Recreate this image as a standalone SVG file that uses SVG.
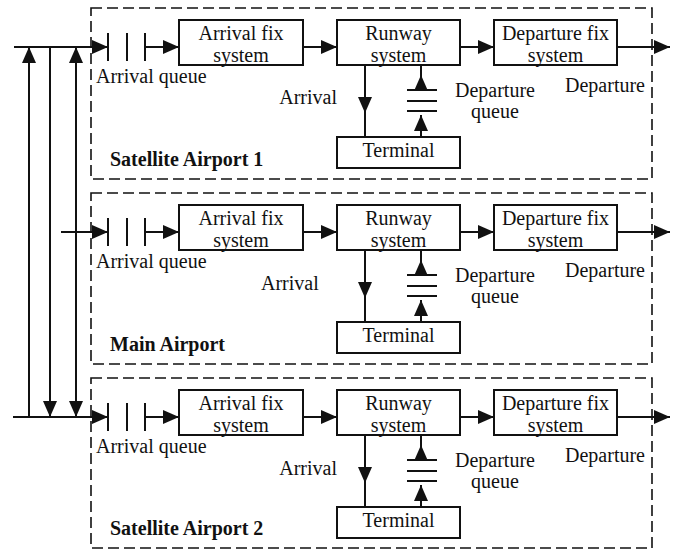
<svg xmlns="http://www.w3.org/2000/svg" width="676" height="550" viewBox="0 0 676 550" font-family="'Liberation Serif', 'Times New Roman', Times, serif">
<style>
  .box{fill:#fff;stroke:#111;stroke-width:2}
  .area{fill:none;stroke:#111;stroke-width:1.6;stroke-dasharray:11 5}
  .ln{fill:none;stroke:#111;stroke-width:2}
  .arr{fill:none;stroke:#111;stroke-width:2;marker-end:url(#ah)}
  text{font-family:'Liberation Serif','Times New Roman',Times,serif;font-size:20px;fill:#111}
  .c{text-anchor:middle}
  .b{font-weight:bold}
</style>
<defs>
  <marker id="ah" viewBox="0 0 16 14" refX="16" refY="7" markerWidth="16" markerHeight="14" markerUnits="userSpaceOnUse" orient="auto-start-reverse">
    <path d="M0,0 L16,7 L0,14 Z" fill="#111"/>
  </marker>
</defs>
<rect width="676" height="550" fill="#fff"/>

<!-- Satellite Airport 1 -->
<g id="satellite-1">
  <rect class="area" x="91" y="8" width="561" height="171"/>
  <text class="b" x="110" y="166">Satellite Airport 1</text>
  <g id="s1-arrival-queue">
    <path class="ln" d="M108,33 V61 M127,33 V61 M145,33 V61"/>
    <text x="96" y="83">Arrival queue</text>
  </g>
  <g id="s1-arrival-fix"><rect class="box" x="179" y="20" width="124" height="45"/><text class="c" x="241" y="40">Arrival fix</text><text class="c" x="241" y="62">system</text></g>
  <g id="s1-runway"><rect class="box" x="337" y="20" width="123" height="45"/><text class="c" x="398.5" y="40">Runway</text><text class="c" x="398.5" y="62">system</text></g>
  <g id="s1-departure-fix"><rect class="box" x="494" y="20" width="123" height="45"/><text class="c" x="555.5" y="40">Departure fix</text><text class="c" x="555.5" y="62">system</text></g>
  <g id="s1-terminal"><rect class="box" x="337" y="137" width="123" height="31"/><text class="c" x="398.5" y="157">Terminal</text></g>
  <g id="s1-departure-queue">
    <path class="ln" d="M407,90 H437 M407,101 H437 M407,111 H437"/>
    <text class="c" x="495" y="97">Departure</text><text class="c" x="495" y="118">queue</text>
  </g>
  <text x="337" y="104" text-anchor="end">Arrival</text>
  <text x="645" y="92" text-anchor="end">Departure</text>
</g>

<!-- Main Airport -->
<g id="main" transform="translate(0,185)">
  <rect class="area" x="91" y="8" width="561" height="171"/>
  <text class="b" x="110" y="166">Main Airport</text>
  <g id="m-arrival-queue">
    <path class="ln" d="M108,33 V61 M127,33 V61 M145,33 V61"/>
    <text x="96" y="83">Arrival queue</text>
  </g>
  <g id="m-arrival-fix"><rect class="box" x="179" y="20" width="124" height="45"/><text class="c" x="241" y="40">Arrival fix</text><text class="c" x="241" y="62">system</text></g>
  <g id="m-runway"><rect class="box" x="337" y="20" width="123" height="45"/><text class="c" x="398.5" y="40">Runway</text><text class="c" x="398.5" y="62">system</text></g>
  <g id="m-departure-fix"><rect class="box" x="494" y="20" width="123" height="45"/><text class="c" x="555.5" y="40">Departure fix</text><text class="c" x="555.5" y="62">system</text></g>
  <g id="m-terminal"><rect class="box" x="337" y="137" width="123" height="31"/><text class="c" x="398.5" y="157">Terminal</text></g>
  <g id="m-departure-queue">
    <path class="ln" d="M407,90 H437 M407,101 H437 M407,111 H437"/>
    <text class="c" x="495" y="97">Departure</text><text class="c" x="495" y="118">queue</text>
  </g>
  <text x="261" y="105">Arrival</text>
  <text x="645" y="92" text-anchor="end">Departure</text>
</g>

<!-- Satellite Airport 2 -->
<g id="satellite-2" transform="translate(0,370)">
  <rect class="area" x="91" y="8" width="561" height="170"/>
  <text class="b" x="110" y="165">Satellite Airport 2</text>
  <g id="s2-arrival-queue">
    <path class="ln" d="M108,33 V61 M127,33 V61 M145,33 V61"/>
    <text x="96" y="83">Arrival queue</text>
  </g>
  <g id="s2-arrival-fix"><rect class="box" x="179" y="20" width="124" height="45"/><text class="c" x="241" y="40">Arrival fix</text><text class="c" x="241" y="62">system</text></g>
  <g id="s2-runway"><rect class="box" x="337" y="20" width="123" height="45"/><text class="c" x="398.5" y="40">Runway</text><text class="c" x="398.5" y="62">system</text></g>
  <g id="s2-departure-fix"><rect class="box" x="494" y="20" width="123" height="45"/><text class="c" x="555.5" y="40">Departure fix</text><text class="c" x="555.5" y="62">system</text></g>
  <g id="s2-terminal"><rect class="box" x="337" y="137" width="123" height="31"/><text class="c" x="398.5" y="157">Terminal</text></g>
  <g id="s2-departure-queue">
    <path class="ln" d="M407,90 H437 M407,101 H437 M407,111 H437"/>
    <text class="c" x="495" y="97">Departure</text><text class="c" x="495" y="118">queue</text>
  </g>
  <text x="337" y="105" text-anchor="end">Arrival</text>
  <text x="645" y="92" text-anchor="end">Departure</text>
</g>

<!-- Connectors -->
<g id="connectors">
  <path class="arr" d="M29,417 V47"/>
  <path class="arr" d="M50,47 V417"/>
  <path class="arr" d="M76,47 V417" style="marker-start:url(#ah)"/>
  <path class="arr" d="M14,47 H108"/>
  <path class="arr" d="M61,232 H108"/>
  <path class="arr" d="M13,417 H108"/>
  <g id="conn-s1">
    <path class="arr" d="M145,47 H179"/>
    <path class="arr" d="M303,47 H337"/>
    <path class="arr" d="M460,47 H494"/>
    <path class="arr" d="M617,47 H670"/>
    <path class="arr" d="M365,65 V113"/><path class="ln" d="M365,112 V137"/>
    <path class="arr" d="M421,137 V115"/>
    <path class="arr" d="M421,90 V75"/><path class="ln" d="M421,76 V65"/>
  </g>
  <g id="conn-main" transform="translate(0,185)">
    <path class="arr" d="M145,47 H179"/>
    <path class="arr" d="M303,47 H337"/>
    <path class="arr" d="M460,47 H494"/>
    <path class="arr" d="M617,47 H670"/>
    <path class="arr" d="M365,65 V113"/><path class="ln" d="M365,112 V137"/>
    <path class="arr" d="M421,137 V115"/>
    <path class="arr" d="M421,90 V75"/><path class="ln" d="M421,76 V65"/>
  </g>
  <g id="conn-s2" transform="translate(0,370)">
    <path class="arr" d="M145,47 H179"/>
    <path class="arr" d="M303,47 H337"/>
    <path class="arr" d="M460,47 H494"/>
    <path class="arr" d="M617,47 H670"/>
    <path class="arr" d="M365,65 V113"/><path class="ln" d="M365,112 V137"/>
    <path class="arr" d="M421,137 V115"/>
    <path class="arr" d="M421,90 V75"/><path class="ln" d="M421,76 V65"/>
  </g>
</g>
</svg>
